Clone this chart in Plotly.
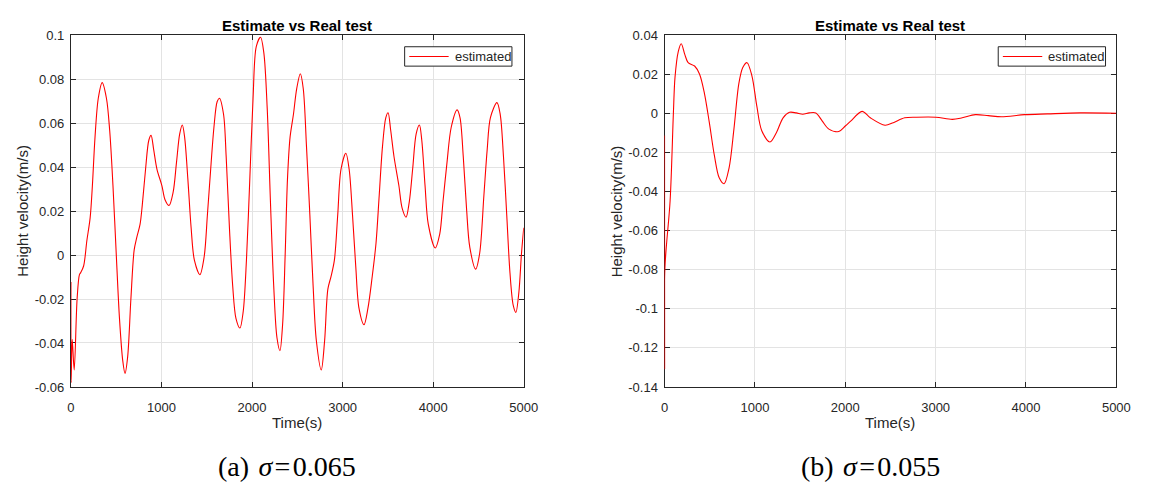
import plotly.graph_objects as go

# ---------------- data ----------------
t_a = [0, 2, 14, 36, 68, 94, 108, 140, 176, 212, 237, 266, 302, 345, 392, 428, 464, 500,
       536, 572, 597, 626, 662, 698, 727, 763, 788, 824, 860, 885, 914, 950, 1004, 1040,
       1083, 1129, 1165, 1201, 1230, 1255, 1291, 1327, 1363, 1424, 1471, 1507, 1543, 1579,
       1615, 1640, 1685, 1714, 1750, 1786, 1822, 1866, 1902, 1938, 1975, 2011, 2047, 2094,
       2130, 2167, 2203, 2239, 2275, 2308, 2337, 2366, 2391, 2420, 2457, 2493, 2533, 2565,
       2601, 2638, 2674, 2710, 2764, 2801, 2837, 2873, 2909, 2946, 2982, 3036, 3072, 3109,
       3145, 3181, 3236, 3279, 3326, 3368, 3404, 3440, 3477, 3502, 3531, 3567, 3621, 3657,
       3700, 3736, 3773, 3812, 3848, 3874, 3910, 3946, 4022, 4072, 4108, 4152, 4199, 4264,
       4296, 4332, 4368, 4404, 4469, 4513, 4560, 4596, 4632, 4704, 4740, 4776, 4812, 4848,
       4884, 4913, 4946, 4975, 5000]
v_a = [-0.0123, -0.058, -0.0383, -0.0523, -0.020, -0.0089, -0.008, -0.005, 0.0066, 0.0169,
       0.0316, 0.0537, 0.0713, 0.0784, 0.0713, 0.0566, 0.0316, 0.0007, -0.0288, -0.048,
       -0.0538, -0.0464, -0.020, 0.0022, 0.008, 0.0139, 0.0228, 0.039, 0.0522, 0.0544,
       0.0478, 0.039, 0.0316, 0.025, 0.0225, 0.0287, 0.0419, 0.0551, 0.0591, 0.0537, 0.0345,
       0.0124, -0.0023, -0.0089, -0.0008, 0.0183, 0.039, 0.0581, 0.0698, 0.0713, 0.064,
       0.0448, 0.0124, -0.014, -0.0288, -0.0332, -0.0258, -0.0023, 0.0345, 0.0713, 0.0949,
       0.099, 0.0919, 0.0669, 0.0242, -0.014, -0.0376, -0.0435, -0.0317, 0.0007, 0.0345,
       0.0537, 0.064, 0.0757, 0.0824, 0.0757, 0.0493, 0.0183, -0.014, -0.039, -0.0523,
       -0.039, -0.0155, -0.0096, -0.0023, 0.0183, 0.039, 0.0463, 0.039, 0.0183, -0.0052,
       -0.0243, -0.0317, -0.0243, -0.010, 0.0051, 0.0272, 0.0493, 0.0625, 0.0647, 0.0566,
       0.0448, 0.0316, 0.0213, 0.0172, 0.0242, 0.039, 0.0551, 0.0591, 0.0522, 0.0316, 0.0139,
       0.0032, 0.0095, 0.0242, 0.0419, 0.0581, 0.066, 0.0625, 0.0448, 0.0213, 0.0036,
       -0.0064, 0.0007, 0.0272, 0.0478, 0.0625, 0.0693, 0.064, 0.0448, 0.0183, -0.0082,
       -0.0229, -0.0261, -0.017, 0.0007, 0.0124]

t_b = [0, 1, 4, 62, 98, 116, 152, 185, 225, 261, 333, 388, 442, 496, 551, 605, 659, 714,
       768, 822, 866, 913, 967, 1022, 1076, 1167, 1239, 1312, 1384, 1457, 1529, 1601, 1674,
       1746, 1819, 1928, 2000, 2060, 2186, 2277, 2440, 2531, 2658, 2785, 3003, 3185, 3294,
       3439, 3584, 3729, 3983, 4237, 4600, 5000]
v_b = [-0.0114, -0.1307, -0.0795, -0.0446, 0.0, 0.0184, 0.0316, 0.0356, 0.030, 0.0259,
       0.0242, 0.020, 0.0101, -0.0048, -0.0214, -0.033, -0.036, -0.028, -0.0081, 0.0151,
       0.0234, 0.0259, 0.0192, 0.0035, -0.0089, -0.0147, -0.0098, -0.0023, 0.0005, 0.0002,
       -0.0005, 0.0002, 0.0002, -0.004, -0.0081, -0.0093, -0.0065, -0.004, 0.001, -0.0023,
       -0.0061, -0.0048, -0.0023, -0.002, -0.002, -0.0031, -0.0023, -0.0007, -0.0012,
       -0.0018, -0.0007, -0.0003, 0.0002, 0.0]

x_ticks = [0, 1000, 2000, 3000, 4000, 5000]
x_tick_text = ["0", "1000", "2000", "3000", "4000", "5000"]
ya_ticks = [-0.06, -0.04, -0.02, 0, 0.02, 0.04, 0.06, 0.08, 0.1]
ya_tick_text = ["-0.06", "-0.04", "-0.02", "0", "0.02", "0.04", "0.06", "0.08", "0.1"]
yb_ticks = [-0.14, -0.12, -0.1, -0.08, -0.06, -0.04, -0.02, 0, 0.02, 0.04]
yb_tick_text = ["-0.14", "-0.12", "-0.1", "-0.08", "-0.06", "-0.04", "-0.02", "0", "0.02", "0.04"]

title_text = "Estimate vs Real test"
x_label = "Time(s)"
y_label = "Height velocity(m/s)"
series_name = "estimated"
caption_a = "(a) \u200a<i>σ</i>\u200a=\u200a0.065"
caption_b = "(b) \u200a<i>σ</i>\u200a=\u200a0.055"

# ---------------- figure ----------------
W, H = 1153, 489
FONT = "Liberation Sans, Arial, Helvetica, sans-serif"
SERIF = "Liberation Serif, Times New Roman, serif"
AX = "#262626"
GRID = "#e3e3e3"
RED = "#ff0000"


def px_x(p):
    return p / W


def px_y(p):
    return 1 - p / H


fig = go.Figure()
fig.add_trace(go.Scatter(x=t_a, y=v_a, mode="lines", name=series_name, showlegend=False,
                         line=dict(color=RED, width=1.1, shape="spline", smoothing=0.9,
                                   simplify=False),
                         xaxis="x", yaxis="y"))
fig.add_trace(go.Scatter(x=t_b, y=v_b, mode="lines", name=series_name, showlegend=False,
                         line=dict(color=RED, width=1.1, shape="spline", smoothing=0.9,
                                   simplify=False),
                         xaxis="x2", yaxis="y2"))


def xaxis(domain, anchor):
    return dict(domain=domain, anchor=anchor, range=[0, 5000], tickvals=x_ticks,
                ticktext=x_tick_text, ticks="inside", ticklen=5, tickcolor=AX,
                showline=True, linecolor=AX, linewidth=1, mirror="ticks",
                showgrid=True, gridcolor=GRID, gridwidth=1, zeroline=False,
                layer="below traces",
                tickfont=dict(family=FONT, size=13, color=AX), ticklabelstandoff=8)


def yaxis(domain, anchor, rng, vals, text):
    return dict(domain=domain, anchor=anchor, range=rng, tickvals=vals, ticktext=text,
                ticks="inside", ticklen=5, tickcolor=AX,
                showline=True, linecolor=AX, linewidth=1, mirror="ticks",
                showgrid=True, gridcolor=GRID, gridwidth=1, zeroline=False,
                layer="below traces",
                tickfont=dict(family=FONT, size=13, color=AX), ticklabelstandoff=3)


ydom = [px_y(392), px_y(29)]
xa_dom = [px_x(68), px_x(528)]
xb_dom = [px_x(671), px_x(1130)]

annotations = []
shapes = []
panels = [
    dict(cx=297.5, ylx=18, lg_r=516, caption=caption_a, cap_x=287),
    dict(cx=900.5, ylx=622, lg_r=1119, caption=caption_b, cap_x=880),
]
for p in panels:
    annotations.append(dict(text="<b>" + title_text + "</b>", x=px_x(p["cx"]), y=px_y(19),
                            xref="paper", yref="paper", showarrow=False,
                            xanchor="center", yanchor="middle",
                            font=dict(family=FONT, size=15, color="black")))
    annotations.append(dict(text=x_label, x=px_x(p["cx"]), y=px_y(429),
                            xref="paper", yref="paper", showarrow=False,
                            xanchor="center", yanchor="middle",
                            font=dict(family=FONT, size=15, color=AX)))
    annotations.append(dict(text=y_label, x=px_x(p["ylx"]), y=px_y(210.5),
                            xref="paper", yref="paper", showarrow=False, textangle=-90,
                            xanchor="center", yanchor="middle",
                            font=dict(family=FONT, size=15, color=AX)))
    annotations.append(dict(text=p["caption"], x=px_x(p["cap_x"]), y=px_y(474),
                            xref="paper", yref="paper", showarrow=False,
                            xanchor="center", yanchor="middle",
                            font=dict(family=SERIF, size=28, color="black")))
    # legend box (MATLAB style)
    r = p["lg_r"]
    l = r - 109
    shapes.append(dict(type="rect", xref="paper", yref="paper",
                       x0=px_x(l), x1=px_x(r), y0=px_y(61), y1=px_y(41),
                       line=dict(color=AX, width=1), fillcolor="white", layer="above"))
    shapes.append(dict(type="line", xref="paper", yref="paper",
                       x0=px_x(l + 4.7), x1=px_x(l + 44.7), y0=px_y(51), y1=px_y(51),
                       line=dict(color=RED, width=1.1), layer="above"))
    annotations.append(dict(text=series_name, x=px_x(l + 49), y=px_y(51),
                            xref="paper", yref="paper", showarrow=False,
                            xanchor="left", yanchor="middle",
                            font=dict(family=FONT, size=13, color=AX)))

fig.update_layout(
    width=W, height=H, margin=dict(l=0, r=0, t=0, b=0, pad=0),
    paper_bgcolor="white", plot_bgcolor="white",
    showlegend=False,
    xaxis=xaxis(xa_dom, "y"),
    yaxis=yaxis(ydom, "x", [-0.06, 0.1], ya_ticks, ya_tick_text),
    xaxis2=xaxis(xb_dom, "y2"),
    yaxis2=yaxis(ydom, "x2", [-0.14, 0.04], yb_ticks, yb_tick_text),
    annotations=annotations,
    shapes=shapes,
)

fig.write_html("out.html")
